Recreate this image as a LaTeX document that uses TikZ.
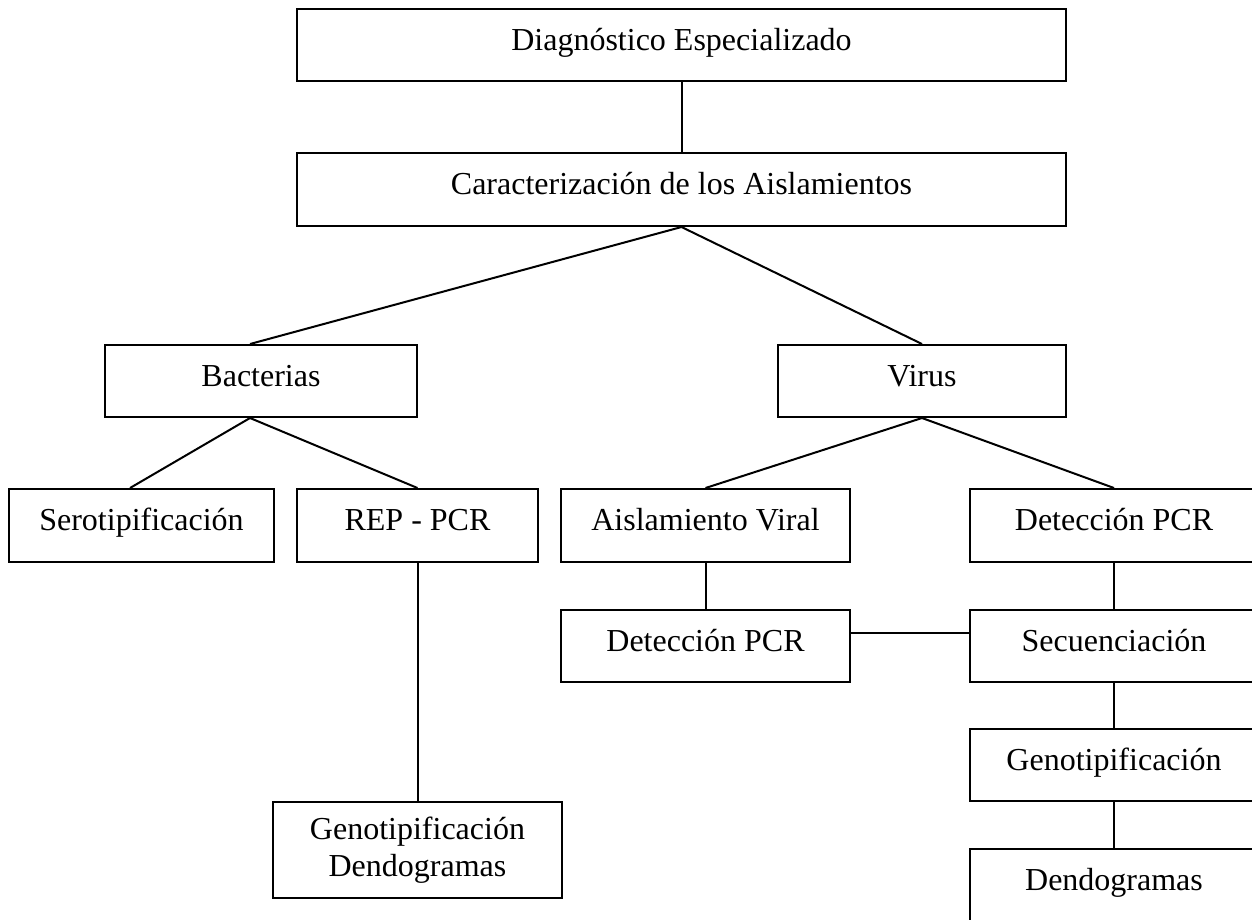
\documentclass[tikz,border=0pt]{standalone}
\usepackage{fontspec}
\setmainfont{Liberation Serif}
\usetikzlibrary{calc}
\tikzset{
  boxbase/.style={draw=black, line width=2pt, inner sep=0pt, align=center, font=\fontsize{32}{37}\selectfont},
  box/.style={boxbase, text height=22pt, text depth=12pt},
  link/.style={draw=black, line width=2pt}
}
\newcommand{\bx}[7][box]{% style, name, x1, y1, x2, y2, text
  \node[#1, minimum width=#5pt-#3pt, minimum height=#6pt-#4pt] (#2) at ({(#3+#5)/2},{(#4+#6)/2}) {#7};}
\begin{document}
\begin{tikzpicture}[x=1pt, y=-1pt]
\clip (0,0) rectangle (1252,919);
\fill[white] (0,0) rectangle (1252,919);
\bx{diag}{297}{9}{1066}{81}{Diagnóstico Especializado}
\bx{car}{297}{153}{1066}{226}{Caracterización de los Aislamientos}
\bx{bac}{105}{345}{417}{417}{Bacterias}
\bx{vir}{778}{345}{1066}{417}{Virus}
\bx{sero}{9}{489}{274}{562}{Serotipificación}
\bx{rep}{297}{489}{538}{562}{REP - PCR}
\bx{ais}{561}{489}{850}{562}{Aislamiento Viral}
\bx{detr}{970}{489}{1258}{562}{Detección PCR}
\bx{detm}{561}{610}{850}{682}{Detección PCR}
\bx{sec}{970}{610}{1258}{682}{Secuenciación}
\bx{geno}{970}{729}{1258}{801}{Genotipificación}
\bx{dend}{970}{849}{1258}{922}{Dendogramas}
\bx[boxbase]{gd}{273}{802}{562}{898}{Genotipificación\\Dendogramas}
\draw[link] (diag.south) -- (car.north);
\draw[link] (car.south) -- ($(bac.north west)!0.465!(bac.north east)$);
\draw[link] (car.south) -- (vir.north);
\draw[link] ($(bac.south west)!0.465!(bac.south east)$) -- ($(sero.north west)!0.457!(sero.north east)$);
\draw[link] ($(bac.south west)!0.465!(bac.south east)$) -- (rep.north);
\draw[link] (vir.south) -- (ais.north);
\draw[link] (vir.south) -- (detr.north);
\draw[link] (rep.south) -- (gd.north);
\draw[link] (ais.south) -- (detm.north);
\draw[link] ($(detm.north east)!0.32!(detm.south east)$) -- ($(sec.north west)!0.32!(sec.south west)$);
\draw[link] (detr.south) -- (sec.north);
\draw[link] (sec.south) -- (geno.north);
\draw[link] (geno.south) -- (dend.north);
\end{tikzpicture}
\end{document}
